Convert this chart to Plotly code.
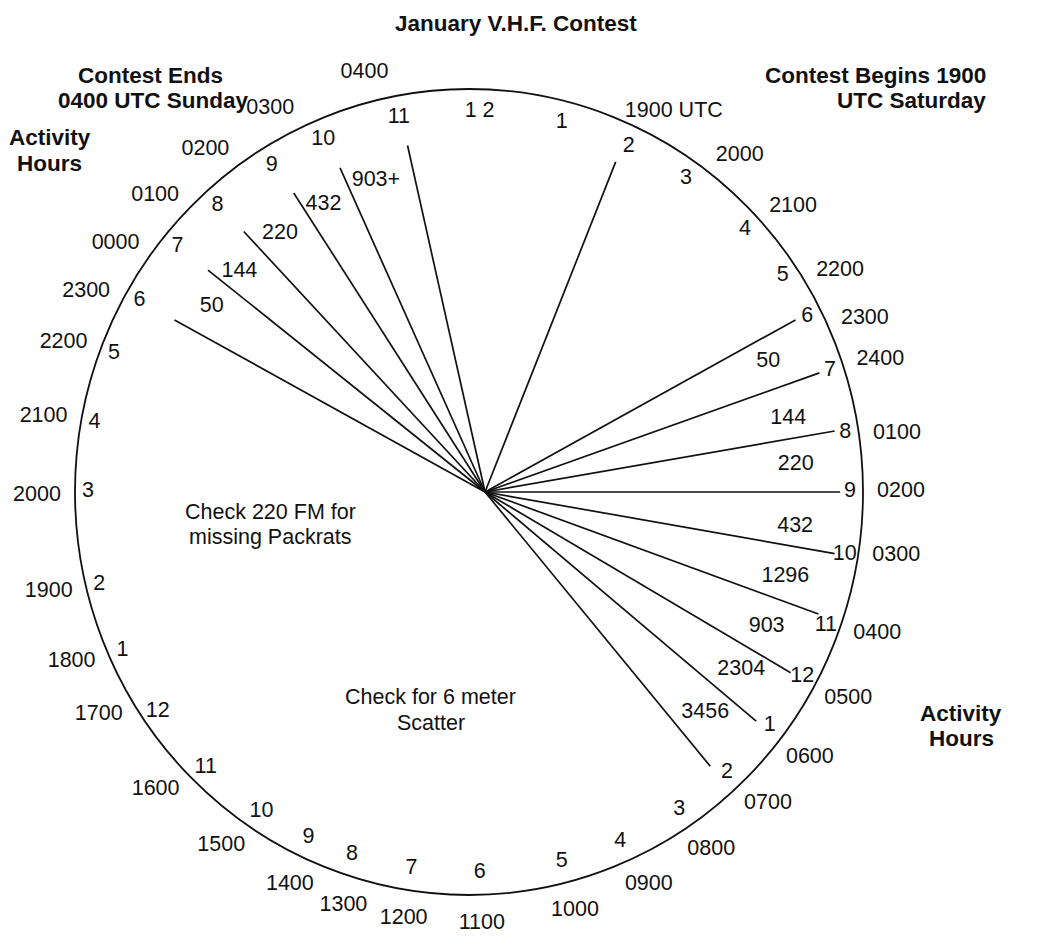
import math
import plotly.graph_objects as go

# ---------------- data ----------------
title_text = "January V.H.F. Contest"

# 12-hour dial numbers, clockwise from the top, and their dial angle
# (degrees clockwise from 12 o'clock)
dial_numbers = ["1 2", "1", "2", "3", "4", "5", "6", "7", "8", "9", "10", "11", "12",
                "1", "2", "3", "4", "5", "6", "7", "8", "9", "10", "11", "12",
                "1", "2", "3", "4", "5", "6", "7", "8", "9", "10", "11"]
dial_angles = [1.6, 14.1, 24.8, 34.7, 46.4, 55.4, 62.6, 71.4, 81.0, 90.0, 99.5, 110.5, 119.0,
               127.9, 137.4, 146.5, 156.6, 165.9, 178.4, 188.7, 197.9, 204.9, 213.0, 223.7, 234.8,
               245.4, 256.0, 270.0, 280.5, 291.3, 300.1, 310.1, 318.7, 328.8, 337.5, 349.4]

# UTC hour labels outside the dial and their dial angle
utc_labels = ["1900 UTC", "2000", "2100", "2200", "2300", "2400", "0100", "0200", "0300",
              "0400", "0500", "0600", "0700", "0800", "0900", "1000", "1100", "1200",
              "1300", "1400", "1500", "1600", "1700", "1800", "1900", "2000", "2100",
              "2200", "2300", "0000", "0100", "0200", "0300", "0400"]
utc_angles = [28.3, 38.8, 48.6, 59.2, 66.4, 72.2, 82.2, 90.0, 98.5,
              109.1, 118.6, 127.9, 136.2, 145.9, 155.4, 165.8, 178.3, 188.7,
              196.9, 204.5, 215.0, 226.5, 239.0, 246.9, 256.6, 269.5, 280.0,
              290.2, 297.6, 305.1, 313.4, 322.4, 332.6, 346.0]

# activity-hour spokes (dial angle of each spoke)
spoke_angles = [21.6, 61.0, 70.4, 80.1, 90.0, 100.0, 110.1, 120.6, 130.2, 140.6,
                299.0, 308.7, 317.2, 327.4, 335.9, 347.4]

# band labels between the spokes
right_bands = ["50", "144", "220", "432", "1296", "903", "2304", "3456"]
right_band_angles = [65.2, 76.4, 85.0, 96.3, 105.7, 115.5, 124.8, 135.1]
left_bands = ["50", "144", "220", "432", "903+"]
left_band_angles = [304.1, 311.9, 321.6, 330.7, 340.7]

# ---------------- geometry / style ----------------
W, H = 1039, 936
CX, CY = 469, 492          # dial centre
RX, RY = 394, 403          # dial radii
HX, HY = 485, 492          # spoke hub
SPOKE_LEN = 355
DIAL_R = 381
UTC_R = 432
RB_R = 312
LB_R = 330
FONT = "Liberation Sans, Arial, sans-serif"
INK = "#111111"
FS = 21.5
FSB = 22.5


def pos(cx, cy, r, ang):
    a = math.radians(ang)
    return cx + r * math.sin(a), cy - r * math.cos(a)


fig = go.Figure()

# spokes
sx, sy = [], []
for a in spoke_angles:
    x1, y1 = pos(HX, HY, SPOKE_LEN, a)
    sx += [HX, x1, None]
    sy += [HY, y1, None]
fig.add_trace(go.Scatter(x=sx, y=sy, mode="lines",
                         line=dict(color=INK, width=1.7), hoverinfo="skip"))


def text_trace(labels, angles, cx, cy, r):
    pts = [pos(cx, cy, r, a) for a in angles]
    fig.add_trace(go.Scatter(x=[p[0] for p in pts], y=[p[1] for p in pts],
                             mode="text", text=labels, textposition="middle center",
                             textfont=dict(family=FONT, size=FS, color=INK),
                             hoverinfo="skip"))


text_trace(dial_numbers, dial_angles, CX, CY, DIAL_R)
text_trace(utc_labels, utc_angles, CX, CY, UTC_R)
text_trace(right_bands, right_band_angles, HX, HY, RB_R)
text_trace(left_bands, left_band_angles, HX, HY, LB_R)

# dial circle
fig.add_shape(type="circle", xref="x", yref="y",
              x0=CX - RX, x1=CX + RX, y0=CY - RY, y1=CY + RY,
              line=dict(color=INK, width=1.8), layer="below")


def note(text, x, y, bold=False, xanchor="center"):
    fig.add_annotation(x=x, y=y, xref="x", yref="y", showarrow=False,
                       text=f"<b>{text}</b>" if bold else text,
                       xanchor=xanchor, yanchor="middle",
                       font=dict(family=FONT, size=FSB if bold else FS, color=INK))


note(title_text, 516, 23, bold=True)
note("Contest Ends", 150, 75, bold=True)
note("0400 UTC Sunday", 153, 100, bold=True)
note("Activity", 50, 137, bold=True)
note("Hours", 49, 163, bold=True)
note("Contest Begins 1900", 988, 75, bold=True, xanchor="right")
note("UTC Saturday", 988, 100, bold=True, xanchor="right")
note("Activity", 961, 713, bold=True)
note("Hours", 961, 738, bold=True)
note("Check 220 FM for", 270, 512)
note("missing Packrats", 270, 537)
note("Check for 6 meter", 430, 697)
note("Scatter", 431, 723)

fig.update_layout(
    width=W, height=H, margin=dict(l=0, r=0, t=0, b=0),
    paper_bgcolor="white", plot_bgcolor="white", showlegend=False,
    xaxis=dict(range=[0, W], visible=False, fixedrange=True),
    yaxis=dict(range=[H, 0], visible=False, fixedrange=True),
)

fig.write_html("out.html", config={"displayModeBar": False},
               post_script="document.body.style.margin='0';document.body.style.overflow='hidden';")
